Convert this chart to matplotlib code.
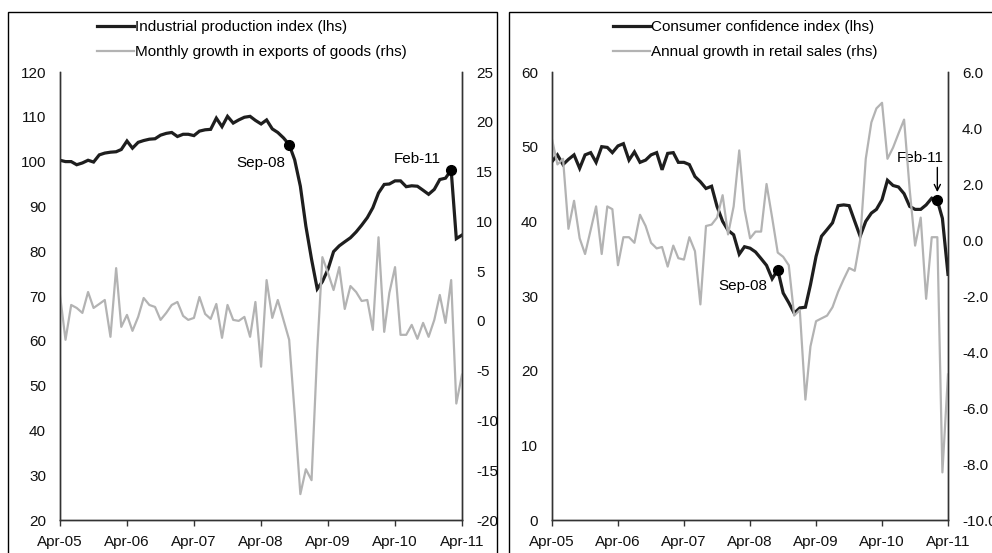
import pandas as pd
import matplotlib.pyplot as plt
import matplotlib.dates as mdates
from matplotlib.patches import Rectangle
from matplotlib.ticker import FormatStrFormatter

plt.rcParams['font.family'] = ['Liberation Sans', 'DejaVu Sans']
plt.rcParams['font.size'] = 11
plt.rcParams['axes.unicode_minus'] = False

months = pd.date_range('2005-04-01', periods=73, freq='MS')

# left panel
ip_index = [100.3, 100.0, 100.0, 99.3, 99.7, 100.3, 99.9, 101.5, 101.9, 102.1,
            102.2, 102.7, 104.6, 103.0, 104.3, 104.7, 105.0, 105.1, 105.9, 106.3,
            106.5, 105.6, 106.1, 106.1, 105.8, 106.8, 107.1, 107.2, 109.7, 107.8,
            110.1, 108.6, 109.3, 109.9, 110.1, 109.2, 108.4, 109.3, 107.3, 106.5,
            105.3, 103.8, 100.4, 94.5, 85.6, 78.2, 71.6, 73.2, 76.0, 79.9,
            81.2, 82.1, 83.0, 84.3, 85.8, 87.5, 89.7, 93.0, 94.9, 95.0,
            95.7, 95.7, 94.4, 94.6, 94.5, 93.6, 92.7, 93.8, 96.0, 96.3,
            98.1, 82.8, 83.6]
export_growth = [2.6, -1.9, 1.6, 1.3, 0.8, 2.9, 1.3, 1.7, 2.1, -1.6,
                 5.3, -0.6, 0.6, -1.0, 0.4, 2.3, 1.6, 1.4, 0.1, 0.8,
                 1.6, 1.9, 0.5, 0.1, 0.3, 2.4, 0.7, 0.2, 1.7, -1.7,
                 1.6, 0.1, 0.0, 0.4, -1.6, 1.9, -4.6, 4.1, 0.3, 2.1,
                 0.1, -1.9, -9.3, -17.4, -14.9, -16.0, -3.0, 6.4, 4.8, 3.1,
                 5.4, 1.2, 3.5, 2.9, 2.0, 2.1, -0.9, 8.4, -1.1, 2.8,
                 5.4, -1.4, -1.4, -0.4, -1.8, -0.2, -1.6, 0.1, 2.6, -0.2,
                 4.1, -8.3, -5.4]

# right panel
cci = [48.0, 48.9, 47.6, 48.3, 48.9, 47.1, 48.9, 49.2, 47.9, 50.0,
       49.9, 49.2, 50.1, 50.4, 48.2, 49.3, 47.9, 48.2, 48.9, 49.2,
       46.9, 49.1, 49.2, 47.9, 47.9, 47.6, 46.0, 45.3, 44.4, 44.7,
       42.0, 40.0, 38.8, 38.2, 35.6, 36.6, 36.4, 35.9, 35.0, 34.1,
       32.3, 33.5, 30.4, 29.1, 27.7, 28.4, 28.5, 31.5, 35.3, 38.0,
       38.9, 39.8, 42.1, 42.2, 42.1, 40.0, 38.0, 40.0, 41.1, 41.6,
       42.9, 45.5, 44.8, 44.6, 43.7, 42.0, 41.6, 41.6, 42.2, 43.1,
       42.8, 40.4, 32.9]
retail_growth = [3.6, 2.7, 2.9, 0.4, 1.4, 0.06, -0.5, 0.36, 1.2, -0.5,
                 1.2, 1.1, -0.9, 0.1, 0.1, -0.1, 0.9, 0.5, -0.1, -0.3,
                 -0.25, -0.95, -0.2, -0.65, -0.7, 0.1, -0.4, -2.3, 0.5, 0.55,
                 0.8, 1.6, 0.2, 1.2, 3.2, 1.1, 0.06, 0.3, 0.3, 2.0,
                 0.8, -0.45, -0.6, -0.9, -2.7, -2.5, -5.7, -3.8, -2.9, -2.8,
                 -2.7, -2.4, -1.85, -1.4, -1.0, -1.1, 0.0, 2.9, 4.2, 4.7,
                 4.9, 2.9, 3.3, 3.8, 4.3, 1.8, -0.2, 0.8, -2.1, 0.1,
                 0.1, -8.3, -4.8]

SEP08 = 41
FEB11 = 70
BLACK = '#1e1e1e'
GREY = '#b3b3b3'

fig = plt.figure(figsize=(9.92, 5.53), dpi=100)


def style_axes(ax, ax2):
    for a in (ax, ax2):
        a.spines['top'].set_visible(False)
        for s in a.spines.values():
            s.set_color('#333333')
            s.set_linewidth(1.0)
        a.tick_params(axis='y', length=0, pad=10, labelcolor='#111111')
    ax.xaxis.set_major_locator(mdates.MonthLocator(bymonth=4))
    ax.xaxis.set_major_formatter(mdates.DateFormatter('%b-%y'))
    ax.tick_params(axis='x', direction='out', length=4, width=1, pad=7,
                   color='#333333', labelcolor='#111111')
    ax.set_xlim(months[0], months[-1])


def draw_panel(rect, lhs, rhs, lhs_label, rhs_label, lhs_lim, lhs_ticks,
               rhs_lim, rhs_ticks, legend_x):
    ax = fig.add_axes(rect)
    ax2 = ax.twinx()
    ax.plot(months, lhs, color=BLACK, lw=2.3, label=lhs_label, solid_joinstyle='miter')
    ax.plot([months[SEP08], months[FEB11]], [lhs[SEP08], lhs[FEB11]],
            ls='none', marker='o', ms=7, color='black')
    ax2.plot(months, rhs, color=GREY, lw=1.6, label=rhs_label)
    ax.set_ylim(*lhs_lim)
    ax.set_yticks(lhs_ticks)
    ax2.set_ylim(*rhs_lim)
    ax2.set_yticks(rhs_ticks)
    style_axes(ax, ax2)
    h1, l1 = ax.get_legend_handles_labels()
    h2, l2 = ax2.get_legend_handles_labels()
    fig.legend(h1 + h2, l1 + l2, loc='upper left',
               bbox_to_anchor=(legend_x, 1 - 20 / 553), frameon=False,
               borderpad=0, borderaxespad=0, handlelength=2.4,
               handletextpad=0.1, labelspacing=0.75, fontsize=11)
    return ax, ax2


# left
axL, axL2 = draw_panel([60 / 992, 33 / 553, 402 / 992, 448 / 553],
                       ip_index, export_growth,
                       'Industrial production index (lhs)',
                       'Monthly growth in exports of goods (rhs)',
                       (20, 120), range(20, 121, 10), (-20, 25), range(-20, 26, 5),
                       97 / 992)
axL.annotate('Sep-08', xy=(mdates.date2num(months[SEP08]), ip_index[SEP08]),
             xytext=(-4, -18), textcoords='offset pixels', ha='right', va='center')
axL.annotate('Feb-11', xy=(mdates.date2num(months[FEB11]), ip_index[FEB11]),
             xytext=(-10, 11), textcoords='offset pixels', ha='right', va='center')

# right
axR, axR2 = draw_panel([552 / 992, 33 / 553, 396 / 992, 448 / 553],
                       cci, retail_growth,
                       'Consumer confidence index (lhs)',
                       'Annual growth in retail sales (rhs)',
                       (0, 60), range(0, 61, 10), (-10, 6), range(-10, 7, 2),
                       613 / 992)
axR2.yaxis.set_major_formatter(FormatStrFormatter('%.1f'))
axR.annotate('Sep-08', xy=(mdates.date2num(months[SEP08]), cci[SEP08]),
             xytext=(-10, -16), textcoords='offset pixels', ha='right', va='center')
feb = mdates.date2num(months[FEB11])
axR.annotate('Feb-11', xy=(feb, cci[FEB11]),
             xytext=(-17, 42), textcoords='offset pixels', ha='center', va='center')
axR.annotate('', xy=(feb, cci[FEB11]), xytext=(0, 33), textcoords='offset pixels',
             arrowprops=dict(arrowstyle='->', color='black', lw=1,
                             shrinkA=0, shrinkB=6))

# panel frames
fig.add_artist(Rectangle((8 / 992, -0.01), 489 / 992, 541 / 553 + 0.01,
                         transform=fig.transFigure, fill=False, ec='black', lw=1.0))
fig.add_artist(Rectangle((509 / 992, -0.01), 0.6, 541 / 553 + 0.01,
                         transform=fig.transFigure, fill=False, ec='black', lw=1.0))

plt.savefig('out.png', dpi=100)
